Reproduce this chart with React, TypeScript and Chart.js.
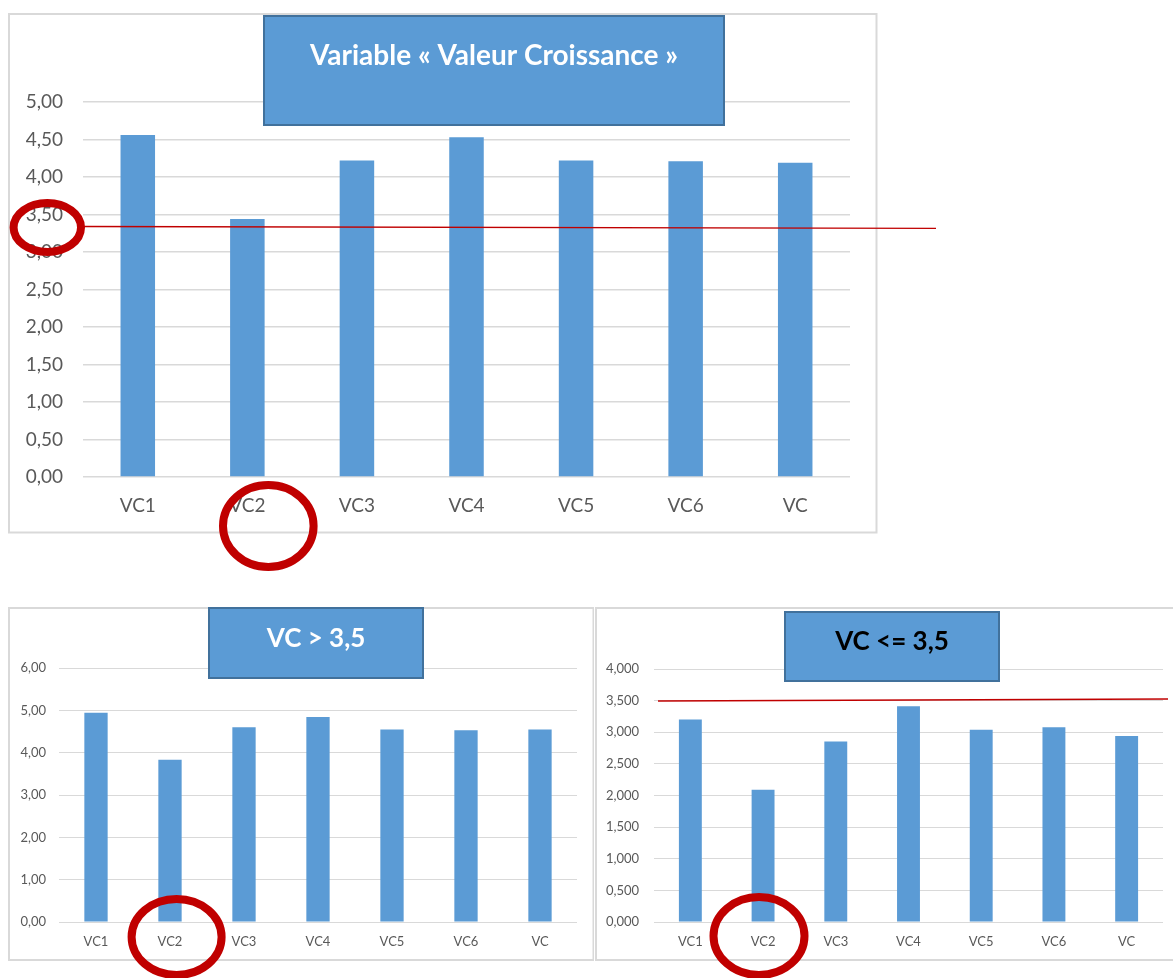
import { useEffect, useRef } from "react";
import { Chart, registerables } from "chart.js";

Chart.register(...registerables);

// ---------- data ----------
const categories = ["VC1", "VC2", "VC3", "VC4", "VC5", "VC6", "VC"];
const valuesAll = [4.56, 3.44, 4.22, 4.53, 4.22, 4.21, 4.19];
const valuesHigh = [4.94, 3.83, 4.6, 4.84, 4.55, 4.53, 4.55];
const valuesLow = [3.2, 2.09, 2.855, 3.41, 3.04, 3.08, 2.94];

const titleAll = "Variable « Valeur Croissance »";
const titleHigh = "VC > 3,5";
const titleLow = "VC <= 3,5";

const yAxisAll = { max: 5, step: 0.5, decimals: 2 };
const yAxisHigh = { max: 6, step: 1, decimals: 2 };
const yAxisLow = { max: 4, step: 0.5, decimals: 3 };

const refLineAll = [3.34, 3.315];
const refLineLow = [3.495, 3.525];

// ---------- styling ----------
const BAR = "#5b9bd5";
const BOX_BORDER = "#41719c";
const GRID = "#d9d9d9";
const TEXT = "#595959";
const RED = "#c00000";
const FONT = "Lato, 'Open Sans', sans-serif";

type Circle = { cx: number; cy: number; rx: number; ry: number };
type PanelCfg = {
  left: number;
  top: number;
  w: number;
  h: number;
  values: number[];
  axis: { max: number; step: number; decimals: number };
  tickSize: number;
  pad: { left: number; right: number; top: number; bottom: number };
  yWidth: number;
  xHeight: number;
  yTickPad: number;
  xTickPad: number;
  gridWidth: number;
  frame: { x1: number; y1: number; x2: number; y2: number };
  title: { x1: number; y1: number; x2: number; y2: number; ty: number; text: string; color: string; size: number };
  ref?: { v0: number; v1: number; x0: number; x1: number };
  circles: Circle[];
};

const panels: PanelCfg[] = [
  {
    left: 0,
    top: 0,
    w: 960,
    h: 580,
    values: valuesAll,
    axis: yAxisAll,
    tickSize: 19,
    pad: { left: 5, right: 110, top: 102, bottom: 53 },
    yWidth: 78,
    xHeight: 50,
    yTickPad: 20,
    xTickPad: 17,
    gridWidth: 1.5,
    frame: { x1: 9, y1: 14, x2: 876.5, y2: 532.5 },
    title: { x1: 264, y1: 16, x2: 724, y2: 125, ty: 56, text: titleAll, color: "#ffffff", size: 28 },
    ref: { v0: refLineAll[0], v1: refLineAll[1], x0: 84, x1: 936 },
    circles: [
      { cx: 47.3, cy: 227.5, rx: 33.7, ry: 24.5 },
      { cx: 268.3, cy: 526, rx: 45.3, ry: 41 },
    ],
  },
  {
    left: 0,
    top: 590,
    w: 594,
    h: 388,
    values: valuesHigh,
    axis: yAxisHigh,
    tickSize: 13,
    pad: { left: 5, right: 17, top: 78, bottom: 26 },
    yWidth: 54,
    xHeight: 30,
    yTickPad: 13,
    xTickPad: 12,
    gridWidth: 1,
    frame: { x1: 9, y1: 18, x2: 593.5, y2: 370 },
    title: { x1: 209, y1: 18, x2: 423, y2: 88, ty: 49, text: titleHigh, color: "#ffffff", size: 26 },
    circles: [{ cx: 176.6, cy: 347, rx: 45, ry: 38 }],
  },
  {
    left: 594,
    top: 590,
    w: 579,
    h: 388,
    values: valuesLow,
    axis: yAxisLow,
    tickSize: 13,
    pad: { left: 4, right: 10, top: 79, bottom: 26 },
    yWidth: 56,
    xHeight: 30,
    yTickPad: 15,
    xTickPad: 12,
    gridWidth: 1,
    frame: { x1: 2, y1: 18, x2: 620, y2: 370 },
    title: { x1: 191, y1: 22, x2: 405, y2: 91, ty: 51.7, text: titleLow, color: "#000000", size: 26 },
    ref: { v0: refLineLow[0], v1: refLineLow[1], x0: 64, x1: 574 },
    circles: [{ cx: 165, cy: 346, rx: 45.5, ry: 39 }],
  },
];

const decorPlugin = {
  id: "decor",
  beforeDraw(chart: any, _a: any, opts: any) {
    const ctx = chart.ctx as CanvasRenderingContext2D;
    const f = opts.frame;
    ctx.save();
    ctx.fillStyle = "#ffffff";
    ctx.fillRect(0, 0, chart.width, chart.height);
    ctx.strokeStyle = GRID;
    ctx.lineWidth = 2;
    ctx.strokeRect(f.x1, f.y1, f.x2 - f.x1, f.y2 - f.y1);
    ctx.restore();
  },
  afterDraw(chart: any, _a: any, opts: any) {
    const ctx = chart.ctx as CanvasRenderingContext2D;
    const t = opts.title;
    ctx.save();
    ctx.fillStyle = BAR;
    ctx.fillRect(t.x1, t.y1, t.x2 - t.x1, t.y2 - t.y1);
    ctx.strokeStyle = BOX_BORDER;
    ctx.lineWidth = 2;
    ctx.strokeRect(t.x1, t.y1, t.x2 - t.x1, t.y2 - t.y1);
    ctx.fillStyle = t.color;
    ctx.font = `bold ${t.size}px ${FONT}`;
    ctx.textAlign = "center";
    ctx.textBaseline = "middle";
    ctx.fillText(t.text, (t.x1 + t.x2) / 2, t.ty);

    if (opts.ref) {
      const y = chart.scales.y;
      ctx.strokeStyle = RED;
      ctx.lineWidth = 1.4;
      ctx.beginPath();
      ctx.moveTo(opts.ref.x0, y.getPixelForValue(opts.ref.v0));
      ctx.lineTo(opts.ref.x1, y.getPixelForValue(opts.ref.v1));
      ctx.stroke();
    }
    ctx.strokeStyle = RED;
    ctx.lineWidth = 8;
    for (const c of opts.circles as Circle[]) {
      ctx.beginPath();
      ctx.ellipse(c.cx, c.cy, c.rx, c.ry, 0, 0, Math.PI * 2);
      ctx.stroke();
    }
    ctx.restore();
  },
};

function Panel({ cfg }: { cfg: PanelCfg }) {
  const ref = useRef<HTMLCanvasElement>(null);
  useEffect(() => {
    if (!ref.current) return;
    const fmt = (v: number) => v.toFixed(cfg.axis.decimals).replace(".", ",");
    const chart = new Chart(ref.current, {
      type: "bar",
      data: {
        labels: categories,
        datasets: [
          {
            data: cfg.values,
            backgroundColor: BAR,
            borderWidth: 0,
            barPercentage: 0.315,
            categoryPercentage: 1,
          },
        ],
      },
      options: {
        animation: false,
        responsive: false,
        devicePixelRatio: 1,
        layout: { padding: cfg.pad },
        plugins: {
          legend: { display: false },
          tooltip: { enabled: false },
          title: { display: false },
          decor: {
            frame: cfg.frame,
            title: cfg.title,
            ref: cfg.ref,
            circles: cfg.circles,
          },
        } as any,
        scales: {
          x: {
            grid: { display: false, drawTicks: false },
            border: { display: false },
            ticks: {
              color: TEXT,
              font: { family: FONT, size: cfg.tickSize },
              padding: cfg.xTickPad,
              maxRotation: 0,
            },
            afterFit: (s: any) => {
              s.height = cfg.xHeight;
            },
          },
          y: {
            min: 0,
            max: cfg.axis.max,
            grid: { color: GRID, lineWidth: cfg.gridWidth, drawTicks: false },
            border: { display: false },
            ticks: {
              stepSize: cfg.axis.step,
              color: TEXT,
              font: { family: FONT, size: cfg.tickSize },
              padding: cfg.yTickPad,
              callback: (v: any) => fmt(Number(v)),
            },
            afterFit: (s: any) => {
              s.width = cfg.yWidth;
            },
          },
        },
      },
      plugins: [decorPlugin as any],
    });
    return () => chart.destroy();
  }, []);
  return (
    <canvas
      ref={ref}
      width={cfg.w}
      height={cfg.h}
      style={{ position: "absolute", left: cfg.left, top: cfg.top, width: cfg.w, height: cfg.h }}
    />
  );
}

export default function App() {
  return (
    <div
      style={{
        position: "absolute",
        left: 0,
        top: 0,
        width: 1173,
        height: 978,
        overflow: "hidden",
        background: "#ffffff",
      }}
    >
      {panels.map((p, i) => (
        <Panel key={i} cfg={p} />
      ))}
    </div>
  );
}
